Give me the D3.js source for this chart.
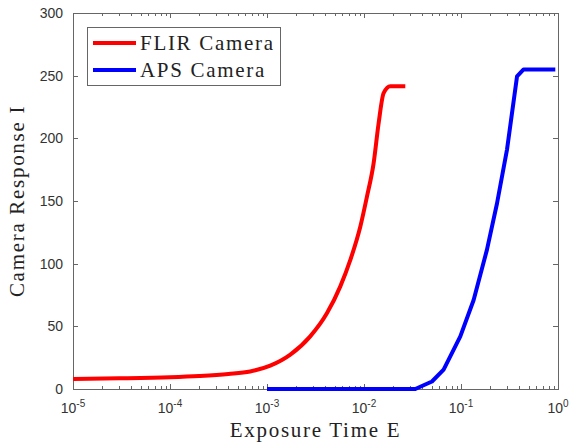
<!DOCTYPE html>
<html>
<head>
<meta charset="utf-8">
<script src="https://cdn.jsdelivr.net/npm/d3@7"></script>
<style>
  body { margin: 0; background: #fff; }
  svg { display: block; }
</style>
</head>
<body>
<div id="chart"></div>
<script>
// exposure time (s) vs camera response
let flirE = [1e-5, 3e-5, 1e-4, 2e-4, 4e-4, 6.7e-4, 1.08e-3, 1.74e-3, 2.79e-3, 4.16e-3, 5.7e-3,
    7.23e-3, 9.17e-3, 0.01074, 0.01256, 0.01415, 0.01593, 0.01867, 0.02665];
let flirI = [8, 8.5, 9.4, 10.4, 12, 14, 18.6, 27.4, 42, 60.6, 81.9,
    103, 129.7, 153.7, 180, 212, 236, 241.5, 241.5];

let apsE = [1e-3, 0.0338, 0.0502, 0.0662, 0.0984, 0.135, 0.185, 0.235, 0.298, 0.378, 0.442, 0.938];
let apsI = [0, 0, 6, 15.4, 42, 71, 111, 148, 191, 249.4, 255, 255];

let seriesNames = ['FLIR Camera', 'APS Camera'];
let seriesColors = ['#ff0000', '#0000ff'];
let yTicks = [0, 50, 100, 150, 200, 250, 300];
let xTicks = [1e-5, 1e-4, 1e-3, 1e-2, 1e-1, 1e0];
let xTickLabels = ['-5', '-4', '-3', '-2', '-1', '0'];

let width = 570,
    height = 446,
    margin = {left: 73, top: 13, right: 12, bottom: 57},
    clipWidth = width - margin.left - margin.right,
    clipHeight = height - margin.top - margin.bottom;

let svg = d3.select('#chart').append('svg')
    .attr('width', width)
    .attr('height', height);

let g = svg.append('g')
    .attr('transform', `translate(${margin.left}, ${margin.top})`);

let xScale = d3.scaleLog()
    .domain([1e-5, 1])
    .range([0, clipWidth]);

let yScale = d3.scaleLinear()
    .domain([0, 300])
    .range([clipHeight, 0]);

let axisColor = '#666';
let labelColor = '#333';
let serif = 'Liberation Serif, Times New Roman, serif';

// minor ticks for the log axis
let minorTicks = [];
for (let e = -5; e < 0; e++) {
    for (let m = 2; m <= 9; m++) minorTicks.push(m * Math.pow(10, e));
}

let tick_g = g.append('g').attr('class', 'ticks')
    .attr('stroke', axisColor)
    .attr('stroke-width', 1);

// x ticks, bottom and top, pointing inward
[[clipHeight, -1], [0, 1]].forEach(([y0, dir]) => {
    tick_g.selectAll(null)
        .data(xTicks)
        .enter().append('line')
        .attr('x1', d => Math.round(xScale(d)) + 0.5)
        .attr('x2', d => Math.round(xScale(d)) + 0.5)
        .attr('y1', y0)
        .attr('y2', y0 + dir * 5);
    tick_g.selectAll(null)
        .data(minorTicks)
        .enter().append('line')
        .attr('x1', d => Math.round(xScale(d)) + 0.5)
        .attr('x2', d => Math.round(xScale(d)) + 0.5)
        .attr('y1', y0)
        .attr('y2', y0 + dir * 3);
});

// y ticks, left and right
[[0, 1], [clipWidth, -1]].forEach(([x0, dir]) => {
    tick_g.selectAll(null)
        .data(yTicks)
        .enter().append('line')
        .attr('y1', d => Math.round(yScale(d)) + 0.5)
        .attr('y2', d => Math.round(yScale(d)) + 0.5)
        .attr('x1', x0)
        .attr('x2', x0 + dir * 5);
});

// box
g.append('rect')
    .attr('x', 0.5)
    .attr('y', 0.5)
    .attr('width', clipWidth)
    .attr('height', clipHeight)
    .attr('fill', 'none')
    .attr('stroke', axisColor)
    .attr('stroke-width', 1);

// y tick labels
g.append('g').selectAll('text')
    .data(yTicks)
    .enter().append('text')
    .attr('x', -10)
    .attr('y', d => yScale(d))
    .attr('dy', '0.36em')
    .attr('text-anchor', 'end')
    .attr('font-family', 'Liberation Sans, Arial, sans-serif')
    .attr('font-size', 14)
    .attr('fill', labelColor)
    .text(d => d);

// x tick labels: 10^k
let xLab = g.append('g').selectAll('text')
    .data(xTicks)
    .enter().append('text')
    .attr('x', d => xScale(d))
    .attr('y', clipHeight + 24)
    .attr('text-anchor', 'middle')
    .attr('font-family', 'Liberation Sans, Arial, sans-serif')
    .attr('font-size', 14)
    .attr('fill', labelColor);
xLab.append('tspan').text('10');
xLab.append('tspan')
    .attr('dy', -6)
    .attr('font-size', 10)
    .text((d, i) => xTickLabels[i]);

// lines
let lineSmooth = d3.line()
    .x(d => xScale(d[0]))
    .y(d => yScale(d[1]))
    .curve(d3.curveMonotoneX);

let lineStraight = d3.line()
    .x(d => xScale(d[0]))
    .y(d => yScale(d[1]));

let lines_g = g.append('g').attr('class', 'lines');
[[flirE, flirI, lineSmooth], [apsE, apsI, lineStraight]].forEach(([es, is, gen], i) => {
    lines_g.append('path')
        .datum(es.map((e, k) => [e, is[k]]))
        .attr('d', gen)
        .attr('fill', 'none')
        .attr('stroke', seriesColors[i])
        .attr('stroke-width', 4)
        .attr('stroke-linejoin', 'round');
});

// axis titles
svg.append('text')
    .attr('x', margin.left + clipWidth / 2)
    .attr('y', 437)
    .attr('text-anchor', 'middle')
    .attr('font-family', serif)
    .attr('font-size', 21)
    .attr('letter-spacing', 1.7)
    .attr('fill', '#222')
    .text('Exposure Time E');

svg.append('text')
    .attr('transform', `translate(24, ${margin.top + clipHeight / 2}) rotate(-90)`)
    .attr('text-anchor', 'middle')
    .attr('font-family', serif)
    .attr('font-size', 21)
    .attr('letter-spacing', 1.7)
    .attr('fill', '#222')
    .text('Camera Response I');

// legend
let legend_g = svg.append('g')
    .attr('transform', 'translate(87, 27)');
legend_g.append('rect')
    .attr('x', 0.5)
    .attr('y', 0.5)
    .attr('width', 193)
    .attr('height', 58)
    .attr('fill', '#fff')
    .attr('stroke', axisColor)
    .attr('stroke-width', 1);
seriesNames.forEach((name, i) => {
    let y = 16 + i * 27;
    legend_g.append('line')
        .attr('x1', 6)
        .attr('x2', 49)
        .attr('y1', y)
        .attr('y2', y)
        .attr('stroke', seriesColors[i])
        .attr('stroke-width', 4);
    legend_g.append('text')
        .attr('x', 53)
        .attr('y', y + 7)
        .attr('font-family', serif)
        .attr('font-size', 21)
        .attr('letter-spacing', 1.7)
        .attr('fill', '#222')
        .text(name);
});
</script>
</body>
</html>
